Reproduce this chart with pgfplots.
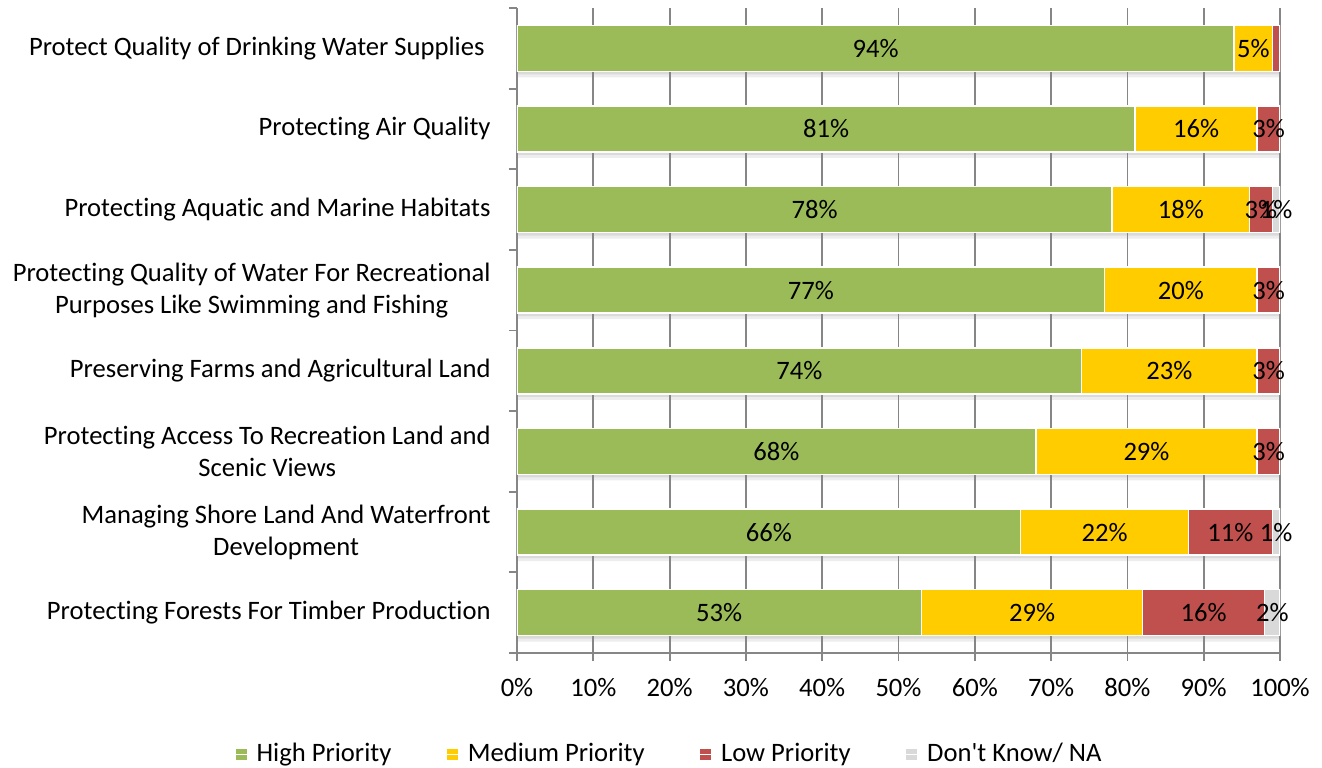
\documentclass[border=0pt]{standalone}
\usepackage{pgfplots}
\pgfplotsset{compat=1.18}
\usepackage{pgfplotstable}
\usepackage{fontspec}
\setmainfont{Carlito}[Ligatures={TeXOff,NoCommon}]
\definecolor{cHigh}{HTML}{9BBB59}
\definecolor{cMed}{HTML}{FFCC00}
\definecolor{cLow}{HTML}{C0504D}
\definecolor{cDK}{HTML}{D9D9D9}
\definecolor{cGrid}{HTML}{868686}
\newcommand\chartfont{\fontsize{13.3}{16}\selectfont}

\pgfplotstableread{
idx H M L D Hl Ml Ll Dl
0 94 5 1 0 94\% 5\% {} {}
1 81 16 3 0 81\% 16\% 3\% {}
2 78 18 3 1 78\% 18\% 3\% 1\%
3 77 20 3 0 77\% 20\% 3\% {}
4 74 23 3 0 74\% 23\% 3\% {}
5 68 29 3 0 68\% 29\% 3\% {}
6 66 22 11 1 66\% 22\% 11\% 1\%
7 53 29 16 2 53\% 29\% 16\% 2\%
}\data

\pgfplotsset{geom/.style={scale only axis, width=381.5pt, height=322.5pt,
  at={(258.5pt,57pt)}, anchor=south west,
  xmin=0, xmax=100, ymin=-0.5, ymax=7.5, y dir=reverse}}

\begin{document}
\chartfont
\begin{tikzpicture}
\useasboundingbox (0,0) rectangle (661pt,383.5pt);
% soft shadow below the bars
\begin{axis}[geom, hide axis]
\addplot[xbar, bar width=23pt, bar shift=-3pt, draw=none, fill=black, fill opacity=0.07]
  table[x expr=\thisrow{H}+\thisrow{M}+\thisrow{L}+\thisrow{D}, y=idx]{\data};
\addplot[xbar, bar width=23pt, bar shift=-1.5pt, draw=none, fill=black, fill opacity=0.08]
  table[x expr=\thisrow{H}+\thisrow{M}+\thisrow{L}+\thisrow{D}, y=idx]{\data};
\end{axis}
% bars
\begin{axis}[geom, xbar stacked, bar width=23pt,
  axis x line*=bottom, axis y line*=left,
  axis line style={cGrid, line width=0.9pt},
  xtick={0,10,...,100},
  xticklabels={0\%,10\%,20\%,30\%,40\%,50\%,60\%,70\%,80\%,90\%,100\%},
  xmajorgrids, grid style={cGrid, line width=0.9pt},
  tick style={cGrid, line width=0.9pt},
  tick align=outside, major tick length=4pt,
  ytick={-0.5,0.5,1.5,2.5,3.5,4.5,5.5,6.5,7.5}, yticklabels={},
  extra y ticks={0,1,2,3,4,5,6,7},
  extra y tick labels={Protect Quality of Drinking Water Supplies\ ,
    Protecting Air Quality,
    Protecting Aquatic and Marine Habitats,
    {Protecting Quality of Water For Recreational\\Purposes Like Swimming and Fishing},
    Preserving Farms and Agricultural Land,
    {Protecting Access To Recreation Land and\\Scenic Views},
    {Managing Shore Land And Waterfront\\Development},
    Protecting Forests For Timber Production},
  extra y tick style={major tick length=0pt,
    yticklabel style={align=center, xshift=-8.6pt, font=\chartfont}},
  xticklabel style={yshift=-4pt, font=\chartfont},
  legend columns=4,
  legend style={at={(0.201,-0.157)}, anchor=center, draw=none, fill=none,
    font=\chartfont, /tikz/every even column/.append style={column sep=25.5pt}},
  legend image code/.code={\fill[#1, draw=none] (0pt,-2.75pt) rectangle (5.5pt,2.75pt);
    \path (0pt,0pt) -- (8pt,0pt);},
]
\addplot[fill=cHigh, draw=white, line width=0.75pt] table[x=H, y=idx]{\data};
\addplot[fill=cMed, draw=white, line width=0.75pt] table[x=M, y=idx]{\data};
\addplot[fill=cLow, draw=white, line width=0.75pt] table[x=L, y=idx]{\data};
\addplot[fill=cDK, draw=white, line width=0.75pt] table[x=D, y=idx]{\data};
\legend{High Priority, Medium Priority, Low Priority, Don't Know/ NA}
\end{axis}
% labels centred in each segment
\begin{axis}[geom, hide axis, clip=false,
  nodes near coords, point meta=explicit symbolic,
  every node near coord/.append style={anchor=center, font=\chartfont, text=black}]
\addplot[draw=none] table[x expr=\thisrow{H}/2, y=idx, meta=Hl]{\data};
\addplot[draw=none] table[x expr=\thisrow{H}+\thisrow{M}/2, y=idx, meta=Ml]{\data};
\addplot[draw=none] table[x expr=\thisrow{H}+\thisrow{M}+\thisrow{L}/2, y=idx, meta=Ll]{\data};
\addplot[draw=none] table[x expr=\thisrow{H}+\thisrow{M}+\thisrow{L}+\thisrow{D}/2, y=idx, meta=Dl]{\data};
\end{axis}
\end{tikzpicture}
\end{document}
